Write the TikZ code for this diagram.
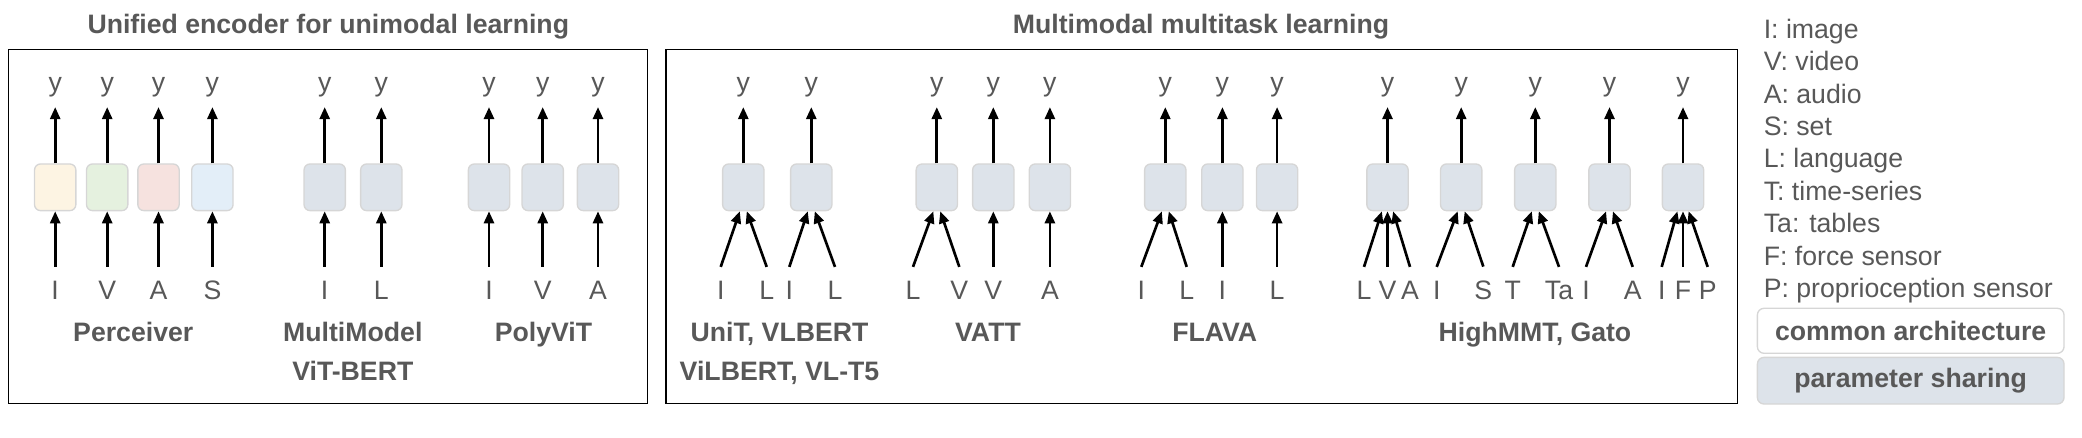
\documentclass[tikz,border=0pt]{standalone}
\usepackage{fontspec}
\setmainfont{Liberation Sans}
\usetikzlibrary{arrows.meta}

\definecolor{txtgray}{RGB}{88,88,88}
\definecolor{boxline}{RGB}{214,214,214}
\definecolor{shared}{RGB}{221,227,234}
\definecolor{pyellow}{RGB}{253,244,227}
\definecolor{pgreen}{RGB}{229,241,223}
\definecolor{pred}{RGB}{246,226,223}
\definecolor{pblue}{RGB}{227,238,248}

\tikzset{every picture/.style={line width=0.75pt}}
\tikzset{
  enc/.style={draw=boxline, fill=shared, rounded corners=4.5pt, minimum width=31pt, minimum height=35pt, inner sep=0pt, line width=1pt},
  lab/.style={text=txtgray, font=\fontsize{20}{24}\selectfont, inner xsep=0pt, anchor=base},
  outlab/.style={lab, inner ysep=6.8pt},
  inlab/.style={lab, inner ysep=10.7pt},
  modelname/.style={lab, font=\fontsize{20}{24}\selectfont\bfseries, inner ysep=2pt},
  arr/.style={-{Triangle[length=9pt,width=7.5pt]}, line width=2pt},
  panel/.style={draw=black, line width=1.1pt},
  keybox/.style={draw=boxline, rounded corners=5pt, minimum width=230pt, inner sep=0pt, line width=1pt, text=txtgray, font=\fontsize{20}{24}\selectfont\bfseries}
}

\begin{document}
\begin{tikzpicture}[x=0.75pt,y=0.75pt,yscale=-1,xscale=1]
\useasboundingbox (0,0) rectangle (2082,438);

%Shape: Rectangle
\draw[panel] (8.7,49.3) rectangle (647.3,403.3);
%Shape: Rectangle
\draw[panel] (666,49.3) rectangle (1737.7,403.3);

% Text Node
\node[modelname] (ttlleft) at (328.3,33.3) {Unified encoder for unimodal learning};
% Text Node
\node[modelname] (ttlmid) at (1201,33.3) {Multimodal multitask learning};

%Perceiver
\node[enc, fill=pyellow] (pc1) at (55.2,187.3) {};
\node[enc, fill=pgreen] (pc2) at (107.2,187.3) {};
\node[enc, fill=pred] (pc3) at (158.5,187.3) {};
\node[enc, fill=pblue] (pc4) at (212.4,187.3) {};
\node[outlab] (pcy1) at (55.2,92) {y};
\node[outlab] (pcy2) at (107.2,92) {y};
\node[outlab] (pcy3) at (158.5,92) {y};
\node[outlab] (pcy4) at (212.4,92) {y};
\node[inlab] (pci1) at (55.2,300) {I};
\node[inlab] (pci2) at (107.2,300) {V};
\node[inlab] (pci3) at (158.5,300) {A};
\node[inlab] (pci4) at (212.4,300) {S};
\draw[arr] (pc1.north) -- (pcy1.south);
\draw[arr] (pc2.north) -- (pcy2.south);
\draw[arr] (pc3.north) -- (pcy3.south);
\draw[arr] (pc4.north) -- (pcy4.south);
\draw[arr] (pci1.north) -- (pc1.south);
\draw[arr] (pci2.north) -- (pc2.south);
\draw[arr] (pci3.north) -- (pc3.south);
\draw[arr] (pci4.north) -- (pc4.south);
\node[modelname] (pcname) at (133.3,341.7) {Perceiver};

%MultiModel
\node[enc] (mm1) at (324.7,187.3) {};
\node[enc] (mm2) at (381.3,187.3) {};
\node[outlab] (mmy1) at (324.7,92) {y};
\node[outlab] (mmy2) at (381.3,92) {y};
\node[inlab] (mmi1) at (324.7,300) {I};
\node[inlab] (mmi2) at (381.3,300) {L};
\draw[arr] (mm1.north) -- (mmy1.south);
\draw[arr] (mm2.north) -- (mmy2.south);
\draw[arr] (mmi1.north) -- (mm1.south);
\draw[arr] (mmi2.north) -- (mm2.south);
\node[modelname] (mmname) at (352.8,341.7) {MultiModel};
\node[modelname] (mmname2) at (352.8,380.7) {ViT-BERT};

%PolyViT
\node[enc] (pv1) at (489,187.3) {};
\node[enc] (pv2) at (542.7,187.3) {};
\node[enc] (pv3) at (598,187.3) {};
\node[outlab] (pvy1) at (489,92) {y};
\node[outlab] (pvy2) at (542.7,92) {y};
\node[outlab] (pvy3) at (598,92) {y};
\node[inlab] (pvi1) at (489,300) {I};
\node[inlab] (pvi2) at (542.7,300) {V};
\node[inlab] (pvi3) at (598,300) {A};
\draw[arr] (pv1.north) -- (pvy1.south);
\draw[arr] (pv2.north) -- (pvy2.south);
\draw[arr] (pv3.north) -- (pvy3.south);
\draw[arr] (pvi1.north) -- (pv1.south);
\draw[arr] (pvi2.north) -- (pv2.south);
\draw[arr] (pvi3.north) -- (pv3.south);
\node[modelname] (pvname) at (543.5,341.7) {PolyViT};

%UniT
\node[enc] (un1) at (743.3,187.3) {};
\node[enc] (un2) at (811.3,187.3) {};
\node[outlab] (uny1) at (743.3,92) {y};
\node[outlab] (uny2) at (811.3,92) {y};
\node[inlab] (uni1) at (720.7,300) {I};
\node[inlab] (uni2) at (766.7,300) {L};
\node[inlab] (uni3) at (789.3,300) {I};
\node[inlab] (uni4) at (835,300) {L};
\draw[arr] (un1.north) -- (uny1.south);
\draw[arr] (un2.north) -- (uny2.south);
\draw[arr] (uni1.north) -- ([xshift=-2.6pt]un1.south);
\draw[arr] (uni2.north) -- ([xshift=2.6pt]un1.south);
\draw[arr] (uni3.north) -- ([xshift=-2.6pt]un2.south);
\draw[arr] (uni4.north) -- ([xshift=2.6pt]un2.south);
\node[modelname] (unname) at (779.5,341.7) {UniT, VLBERT};
\node[modelname] (unname2) at (779.5,380.7) {ViLBERT, VL-T5};

%VATT
\node[enc] (va1) at (936.8,187.3) {};
\node[enc] (va2) at (993.3,187.3) {};
\node[enc] (va3) at (1049.9,187.3) {};
\node[outlab] (vay1) at (936.8,92) {y};
\node[outlab] (vay2) at (993.3,92) {y};
\node[outlab] (vay3) at (1049.9,92) {y};
\node[inlab] (vai1) at (913,300) {L};
\node[inlab] (vai2) at (959.3,300) {V};
\node[inlab] (vai3) at (993.3,300) {V};
\node[inlab] (vai4) at (1049.9,300) {A};
\draw[arr] (va1.north) -- (vay1.south);
\draw[arr] (va2.north) -- (vay2.south);
\draw[arr] (va3.north) -- (vay3.south);
\draw[arr] (vai1.north) -- ([xshift=-2.6pt]va1.south);
\draw[arr] (vai2.north) -- ([xshift=2.6pt]va1.south);
\draw[arr] (vai3.north) -- (va2.south);
\draw[arr] (vai4.north) -- (va3.south);
\node[modelname] (vaname) at (988,341.7) {VATT};

%FLAVA
\node[enc] (fl1) at (1165.3,187.3) {};
\node[enc] (fl2) at (1222.4,187.3) {};
\node[enc] (fl3) at (1277.1,187.3) {};
\node[outlab] (fly1) at (1165.3,92) {y};
\node[outlab] (fly2) at (1222.4,92) {y};
\node[outlab] (fly3) at (1277.1,92) {y};
\node[inlab] (fli1) at (1141.3,300) {I};
\node[inlab] (fli2) at (1186.7,300) {L};
\node[inlab] (fli3) at (1222.4,300) {I};
\node[inlab] (fli4) at (1277.1,300) {L};
\draw[arr] (fl1.north) -- (fly1.south);
\draw[arr] (fl2.north) -- (fly2.south);
\draw[arr] (fl3.north) -- (fly3.south);
\draw[arr] (fli1.north) -- ([xshift=-2.6pt]fl1.south);
\draw[arr] (fli2.north) -- ([xshift=2.6pt]fl1.south);
\draw[arr] (fli3.north) -- (fl2.south);
\draw[arr] (fli4.north) -- (fl3.south);
\node[modelname] (flname) at (1214.7,341.7) {FLAVA};

%HighMMT
\node[enc] (hm1) at (1387.5,187.3) {};
\node[enc] (hm2) at (1461.2,187.3) {};
\node[enc] (hm3) at (1535.3,187.3) {};
\node[enc] (hm4) at (1609.5,187.3) {};
\node[enc] (hm5) at (1683,187.3) {};
\node[outlab] (hmy1) at (1387.5,92) {y};
\node[outlab] (hmy2) at (1461.2,92) {y};
\node[outlab] (hmy3) at (1535.3,92) {y};
\node[outlab] (hmy4) at (1609.5,92) {y};
\node[outlab] (hmy5) at (1683,92) {y};
\node[inlab] (hmi1) at (1364,300) {L};
\node[inlab] (hmi2) at (1387.5,300) {V};
\node[inlab] (hmi3) at (1410,300) {A};
\node[inlab] (hmi4) at (1436.7,300) {I};
\node[inlab] (hmi5) at (1483.3,300) {S};
\node[inlab] (hmi6) at (1512.7,300) {T};
\node[inlab] (hmi7) at (1559,300) {Ta};
\node[inlab] (hmi8) at (1586,300) {I};
\node[inlab] (hmi9) at (1632.7,300) {A};
\node[inlab] (hmi10) at (1661.7,300) {I};
\node[inlab] (hmi11) at (1683,300) {F};
\node[inlab] (hmi12) at (1707.7,300) {P};
\draw[arr] (hm1.north) -- (hmy1.south);
\draw[arr] (hm2.north) -- (hmy2.south);
\draw[arr] (hm3.north) -- (hmy3.south);
\draw[arr] (hm4.north) -- (hmy4.south);
\draw[arr] (hm5.north) -- (hmy5.south);
\draw[arr] (hmi1.north) -- ([xshift=-4.2pt]hm1.south);
\draw[arr] (hmi2.north) -- (hm1.south);
\draw[arr] (hmi3.north) -- ([xshift=4.2pt]hm1.south);
\draw[arr] (hmi4.north) -- ([xshift=-2.6pt]hm2.south);
\draw[arr] (hmi5.north) -- ([xshift=2.6pt]hm2.south);
\draw[arr] (hmi6.north) -- ([xshift=-2.6pt]hm3.south);
\draw[arr] (hmi7.north) -- ([xshift=2.6pt]hm3.south);
\draw[arr] (hmi8.north) -- ([xshift=-2.6pt]hm4.south);
\draw[arr] (hmi9.north) -- ([xshift=2.6pt]hm4.south);
\draw[arr] (hmi10.north) -- ([xshift=-4.2pt]hm5.south);
\draw[arr] (hmi11.north) -- (hm5.south);
\draw[arr] (hmi12.north) -- ([xshift=4.2pt]hm5.south);
\node[modelname] (hmname) at (1535,341.7) {HighMMT, Gato};

%Legend
\node[lab, anchor=base west] (lg1) at (1763.3,38.3) {I: image};
\node[lab, anchor=base west] (lg2) at (1763.3,70.7) {V: video};
\node[lab, anchor=base west] (lg3) at (1763.3,103.1) {A: audio};
\node[lab, anchor=base west] (lg4) at (1763.3,135.5) {S: set};
\node[lab, anchor=base west] (lg5) at (1763.3,167.9) {L: language};
\node[lab, anchor=base west] (lg6) at (1763.3,200.3) {T: time-series};
\node[lab, anchor=base west] (lg7) at (1763.3,232.7) {Ta: tables};
\node[lab, anchor=base west] (lg8) at (1763.3,265.1) {F: force sensor};
\node[lab, anchor=base west] (lg9) at (1763.3,297.5) {P: proprioception sensor};
%Shape: Rounded Rect
\node[keybox, fill=white, minimum height=33.75pt] (keycommon) at (1910.7,330.8) {common architecture};
%Shape: Rounded Rect
\node[keybox, fill=shared, minimum height=35pt] (keyshare) at (1910.7,380.7) {parameter sharing};

\end{tikzpicture}
\end{document}
